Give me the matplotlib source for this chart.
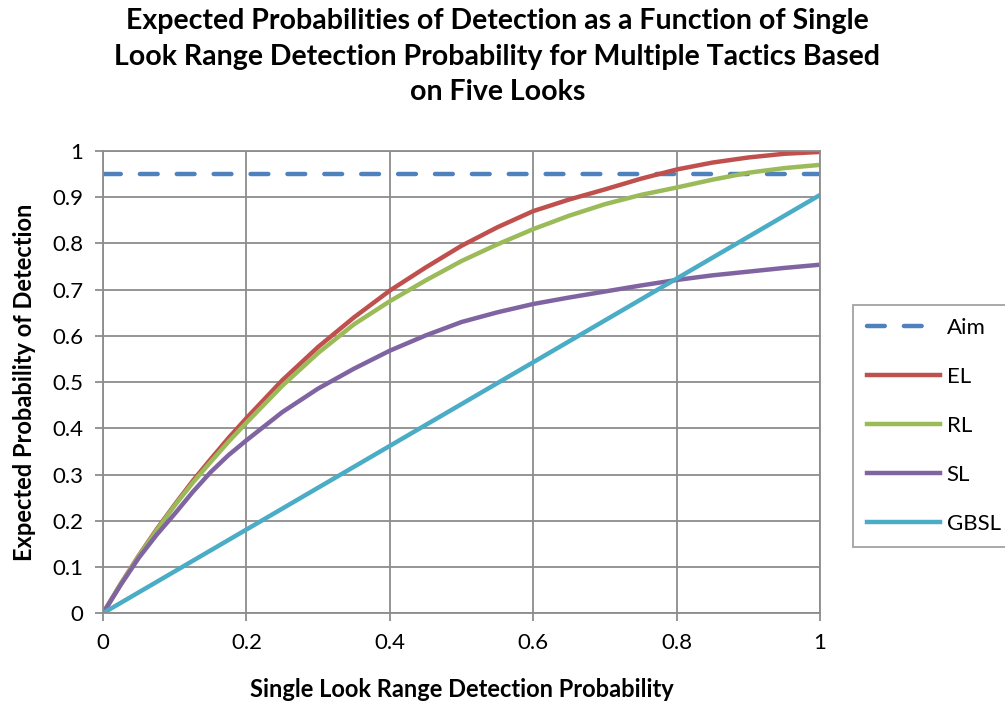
import numpy as np
import matplotlib
matplotlib.use("Agg")
import matplotlib.pyplot as plt

plt.rcParams['font.family'] = ['Lato', 'DejaVu Sans']

# single look range detection probability
x_fine = [0, 0.025, 0.05, 0.075, 0.1, 0.125, 0.15, 0.175, 0.2, 0.25, 0.3, 0.35,
          0.4, 0.45, 0.5, 0.55, 0.6, 0.65, 0.7, 0.75, 0.8, 0.85, 0.9, 0.95, 1.0]
el = [0, 0.064, 0.125, 0.182, 0.235, 0.286, 0.333, 0.379, 0.422, 0.504, 0.576,
      0.640, 0.698, 0.748, 0.795, 0.835, 0.870, 0.895, 0.917, 0.940, 0.960,
      0.975, 0.986, 0.994, 0.998]
rl = [0, 0.064, 0.124, 0.180, 0.233, 0.282, 0.327, 0.371, 0.412, 0.492, 0.563,
      0.625, 0.675, 0.720, 0.762, 0.798, 0.831, 0.860, 0.885, 0.905, 0.921,
      0.938, 0.953, 0.963, 0.970]
sl = [0, 0.062, 0.120, 0.170, 0.215, 0.262, 0.305, 0.342, 0.374, 0.435, 0.486,
      0.529, 0.568, 0.601, 0.630, 0.651, 0.669, 0.683, 0.696, 0.709, 0.721,
      0.731, 0.739, 0.747, 0.754]
x_gbsl = [0, 0.2, 0.4, 0.6, 0.8, 1.0]
gbsl = [0, 0.181, 0.362, 0.543, 0.724, 0.905]
x_aim = [0, 1.0]
aim = [0.95, 0.95]

fig = plt.figure(figsize=(10.05, 7.04), dpi=100)
ax = fig.add_axes([0.1025, 0.129, 0.7135, 0.6565])

lw = 3.2
ax.plot(x_aim, aim, color="#4F81BD", lw=lw, dashes=(4, 4.3),
        dash_capstyle="round", label="Aim")
ax.plot(x_fine, el, color="#C0504D", lw=lw, label="EL")
ax.plot(x_fine, rl, color="#9BBB59", lw=lw, label="RL")
ax.plot(x_fine, sl, color="#8064A2", lw=lw, label="SL")
ax.plot(x_gbsl, gbsl, color="#4BACC6", lw=lw, label="GBSL")

ax.set_xlim(0, 1)
ax.set_ylim(0, 1)
ax.set_xticks(np.arange(0, 1.01, 0.2))
ax.set_xticklabels(["0", "0.2", "0.4", "0.6", "0.8", "1"])
ax.set_yticks(np.arange(0, 1.01, 0.1))
ax.set_yticklabels(["0", "0.1", "0.2", "0.3", "0.4", "0.5", "0.6", "0.7",
                    "0.8", "0.9", "1"])
ax.grid(True, color="#8C8C8C", lw=1.3)
ax.set_axisbelow(True)
for s in ax.spines.values():
    s.set_color("#8C8C8C")
    s.set_linewidth(1.3)
ax.tick_params(colors="#8C8C8C", length=6, width=1.3, labelcolor="black",
               labelsize=16)
ax.tick_params(axis="x", pad=8)
ax.tick_params(axis="y", pad=8)

ax.set_xlabel("Single Look Range Detection Probability", fontsize=17,
              fontweight="bold", labelpad=18)
ax.set_ylabel("Expected Probability of Detection", fontsize=17,
              fontweight="bold", labelpad=12)

fig.text(0.495, 0.988, "Expected Probabilities of Detection as a Function of Single\n"
         "Look Range Detection Probability for Multiple Tactics Based\n"
         "on Five Looks", ha="center", va="top", fontsize=20.5,
         fontweight="bold", linespacing=1.45)

leg = ax.legend(loc="center left", bbox_to_anchor=(0.849, 0.395),
                bbox_transform=fig.transFigure, frameon=True, fancybox=False,
                fontsize=16, handlelength=3.3, handletextpad=0.3,
                labelspacing=1.3, borderpad=0.6, borderaxespad=0)
leg.get_frame().set_edgecolor("#8C8C8C")
leg.get_frame().set_linewidth(1.3)

fig.savefig("out.png", dpi=100)
